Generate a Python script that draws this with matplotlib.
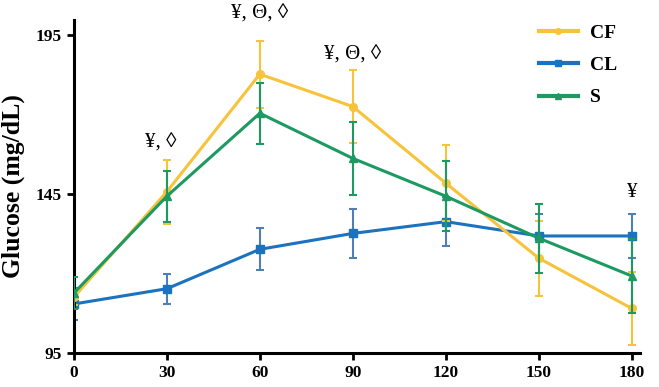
import matplotlib
matplotlib.use('Agg')
import matplotlib.pyplot as plt
from matplotlib.lines import Line2D

plt.rcParams['font.family'] = ['Liberation Serif', 'DejaVu Serif']

# time points (min)
minutes = [0, 30, 60, 90, 120, 150, 180]

# glucose means and SD per group
cf_mean = [112.5, 145.7, 182.7, 172.5, 148.4, 124.8, 109.0]
cf_err = [2.5, 10.0, 10.5, 11.5, 12.0, 11.8, 11.5]
cl_mean = [110.4, 115.2, 127.6, 132.6, 136.3, 131.8, 131.8]
cl_err = [5.0, 4.7, 6.6, 7.8, 7.7, 7.0, 7.0]
s_mean = [113.8, 144.3, 170.4, 156.2, 144.3, 131.1, 119.2]
s_err = [5.0, 8.0, 9.6, 11.5, 11.0, 10.8, 11.5]

# significance marks: (x, y, text)
marks_x = [28, 60, 90, 180]
marks_y = [161, 201.5, 188.7, 145.6]
marks_txt = ['¥, ◊', '¥, Θ, ◊', '¥, Θ, ◊', '¥']

yellow = '#f7c33b'
blue = '#1b72bf'
green = '#1c9a62'

fig = plt.figure(figsize=(6.59, 3.87), dpi=100)
ax = fig.add_axes([0.112, 0.088, 0.859, 0.86])

ax.errorbar(minutes, cl_mean, yerr=cl_err, color=blue, ecolor='#4f7fb5', marker='s',
            markersize=5.5, linewidth=2.2, elinewidth=1.5, capsize=3, capthick=1.5,
            zorder=2)
ax.errorbar(minutes, s_mean, yerr=s_err, color=green, marker='^',
            markersize=5.5, linewidth=2.2, elinewidth=1.5, capsize=3, capthick=1.5,
            zorder=3)
ax.errorbar(minutes, cf_mean, yerr=cf_err, color=yellow, marker='o',
            markersize=5.5, linewidth=2.2, elinewidth=1.5, capsize=3, capthick=1.5,
            zorder=2.5)

for x, y, t in zip(marks_x, marks_y, marks_txt):
    ax.text(x, y, t, ha='center', va='center', fontsize=15, clip_on=False)

ax.set_xlim(0, 182.6)
ax.set_ylim(95, 199.7)
ax.set_xticks(minutes)
ax.set_yticks([95, 145, 195])
for lab in ax.get_xticklabels() + ax.get_yticklabels():
    lab.set_fontweight('bold')
    lab.set_fontsize(12.5)
ax.set_ylabel('Glucose (mg/dL)', fontsize=18.5, fontweight='bold', labelpad=8)

ax.spines['top'].set_visible(False)
ax.spines['right'].set_visible(False)
ax.spines['left'].set_linewidth(2.2)
ax.spines['bottom'].set_linewidth(2.2)
ax.tick_params(width=2, length=5)

handles = [Line2D([], [], color=yellow, marker='o', markersize=4, linewidth=3),
           Line2D([], [], color=blue, marker='s', markersize=4, linewidth=3),
           Line2D([], [], color=green, marker='^', markersize=4, linewidth=3)]
ax.legend(handles, ['CF', 'CL', 'S'], loc='upper right',
          bbox_to_anchor=(0.99, 1.04), frameon=False,
          prop={'weight': 'bold', 'size': 14}, handlelength=2.0,
          labelspacing=0.75, handletextpad=0.6)

fig.savefig('out.png', dpi=100)
